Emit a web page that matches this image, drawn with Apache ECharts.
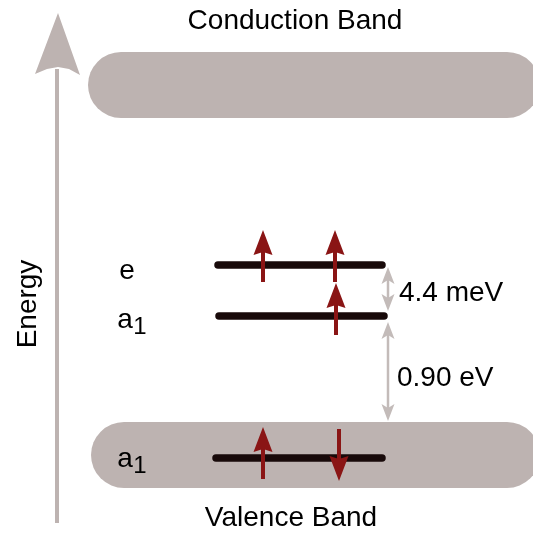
<!DOCTYPE html>
<html><head><meta charset="utf-8">
<script src="https://cdn.jsdelivr.net/npm/echarts@6/dist/echarts.min.js"></script>
<style>html,body{margin:0;padding:0;background:#fff}#c{width:533px;height:533px}</style>
</head><body><div id="c"></div>
<script>
// Schematic coordinates (diagram units, y grows downward)
var bandNames = ['Conduction Band', 'Valence Band'];
var bandX = [[88, 540], [91, 540]];
var bandY = [[52, 118], [422, 488]];
var bandLabelPos = [[295, 21], [291, 518]];

var levelNames = ['e', 'a1', 'a1'];
var levelY = [265, 316, 458];
var levelX = [[218, 382], [219, 384], [216, 382]];
var levelLabelPos = [[127, 271], [126, 320], [126, 459]];

// spin arrows: [x, tailY, tipY]
var spinArrows = [[263, 282, 230], [335, 282, 230], [336, 335, 283], [263, 479, 427], [339, 429, 481]];

// gaps: [x, y1, y2, label]
var gapX = [388, 388];
var gapY = [[267, 311], [322, 421]];
var gapLabels = ['4.4 meV', '0.90 eV'];
var gapLabelPos = [[399, 293], [397, 378]];

var energyAxis = {x: 57, bottom: 523, tip: 13, label: 'Energy', labelPos: [28, 304]};

var FONT = '"Liberation Sans", Arial, sans-serif';
var GRAY = '#bdb3b1';
var RED = '#8a1515';
var BLACK = '#180a0a';
var chart = echarts.init(document.getElementById('c'));

function pt(api, x, y) { return api.coord([x, y]); }

var option = {
  animation: false,
  grid: {left: 0, right: 0, top: 0, bottom: 0},
  xAxis: {type: 'value', min: 0, max: 533, show: false},
  yAxis: {type: 'value', min: 0, max: 533, inverse: true, show: false},
  series: [
    { // bands
      type: 'custom', coordinateSystem: 'cartesian2d',
      data: bandNames.map(function (n, i) { return [bandX[i][0], bandY[i][0], bandX[i][1], bandY[i][1]]; }),
      renderItem: function (params, api) {
        var a = pt(api, api.value(0), api.value(1));
        var b = pt(api, api.value(2), api.value(3));
        var h = b[1] - a[1];
        return {type: 'rect', shape: {x: a[0], y: a[1], width: b[0] - a[0], height: h, r: h / 2},
          style: {fill: GRAY}};
      }
    },
    { // energy axis arrow
      type: 'custom', coordinateSystem: 'cartesian2d',
      data: [[energyAxis.x, energyAxis.bottom, energyAxis.tip]],
      renderItem: function (params, api) {
        var x = api.value(0), yb = api.value(1), yt = api.value(2);
        var p0 = pt(api, x, yb), p1 = pt(api, x, yt + 56);
        return {type: 'group', children: [
          {type: 'line', shape: {x1: p0[0], y1: p0[1], x2: p1[0], y2: p1[1]}, style: {stroke: GRAY, lineWidth: 4}},
          {type: 'polygon', shape: {points: [pt(api, x + 1, yt), pt(api, x + 23, yt + 62), pt(api, x + 12, yt + 56), pt(api, x + 1, yt + 54), pt(api, x - 10, yt + 56), pt(api, x - 22, yt + 61)]}, style: {fill: GRAY}}
        ]};
      }
    },
    { // levels
      type: 'custom', coordinateSystem: 'cartesian2d',
      data: levelNames.map(function (n, i) { return [levelX[i][0], levelY[i], levelX[i][1]]; }),
      renderItem: function (params, api) {
        var a = pt(api, api.value(0), api.value(1)), b = pt(api, api.value(2), api.value(1));
        return {type: 'line', shape: {x1: a[0], y1: a[1], x2: b[0], y2: b[1]},
          style: {stroke: BLACK, lineWidth: 7.5, lineCap: 'round'}};
      }
    },
    { // spin arrows
      type: 'custom', coordinateSystem: 'cartesian2d',
      data: spinArrows,
      renderItem: function (params, api) {
        var x = api.value(0), ta = api.value(1), tp = api.value(2);
        var d = tp < ta ? 1 : -1;
        var s0 = pt(api, x, ta), s1 = pt(api, x, tp + d * 18);
        return {type: 'group', children: [
          {type: 'line', shape: {x1: s0[0], y1: s0[1], x2: s1[0], y2: s1[1]}, style: {stroke: RED, lineWidth: 4}},
          {type: 'polygon', shape: {points: [pt(api, x, tp), pt(api, x + 9.5, tp + d * 25), pt(api, x, tp + d * 22), pt(api, x - 9.5, tp + d * 25)]}, style: {fill: RED}}
        ]};
      }
    },
    { // gap arrows
      type: 'custom', coordinateSystem: 'cartesian2d',
      data: gapLabels.map(function (l, i) { return [gapX[i], gapY[i][0], gapY[i][1]]; }),
      renderItem: function (params, api) {
        var x = api.value(0), y1 = api.value(1), y2 = api.value(2);
        var a = pt(api, x, y1 + 10), b = pt(api, x, y2 - 10);
        return {type: 'group', children: [
          {type: 'line', shape: {x1: a[0], y1: a[1], x2: b[0], y2: b[1]}, style: {stroke: '#c3bbb9', lineWidth: 2.5}},
          {type: 'polygon', shape: {points: [pt(api, x, y1), pt(api, x + 6.5, y1 + 17), pt(api, x, y1 + 13), pt(api, x - 6.5, y1 + 17)]}, style: {fill: '#c3bbb9'}},
          {type: 'polygon', shape: {points: [pt(api, x, y2), pt(api, x + 6.5, y2 - 17), pt(api, x, y2 - 13), pt(api, x - 6.5, y2 - 17)]}, style: {fill: '#c3bbb9'}}
        ]};
      }
    },
    { // texts
      type: 'custom', coordinateSystem: 'cartesian2d',
      data: [].concat(
        bandNames.map(function (n, i) { return [bandLabelPos[i][0], bandLabelPos[i][1], n, 'center', 0]; }),
        gapLabels.map(function (n, i) { return [gapLabelPos[i][0], gapLabelPos[i][1], n, 'left', 0]; }),
        [[energyAxis.labelPos[0], energyAxis.labelPos[1], energyAxis.label, 'center', 90]],
        levelNames.map(function (n, i) { return [levelLabelPos[i][0], levelLabelPos[i][1], n, 'center', 0]; })
      ),
      dimensions: ['x', 'y', {name: 't', type: 'ordinal'}, {name: 'a', type: 'ordinal'}, 'r'],
      renderItem: function (params, api) {
        var d = option.series[5].data[params.dataIndex];
        var p = pt(api, d[0], d[1]);
        var txt = d[2];
        if (txt === 'a1') {
          return {type: 'group', children: [
            {type: 'text', x: p[0] - 1, y: p[1], style: {text: 'a', font: '28px ' + FONT, fill: '#000', align: 'center', verticalAlign: 'middle'}},
            {type: 'text', x: p[0] + 14, y: p[1] + 7, style: {text: '1', font: '24px ' + FONT, fill: '#000', align: 'center', verticalAlign: 'middle'}}
          ]};
        }
        return {type: 'text', x: p[0], y: p[1], rotation: d[4] * Math.PI / 180,
          style: {text: txt, font: '28px ' + FONT, fill: '#000', align: d[3], verticalAlign: 'middle'}};
      }
    }
  ]
};
chart.setOption(option);
</script></body></html>
